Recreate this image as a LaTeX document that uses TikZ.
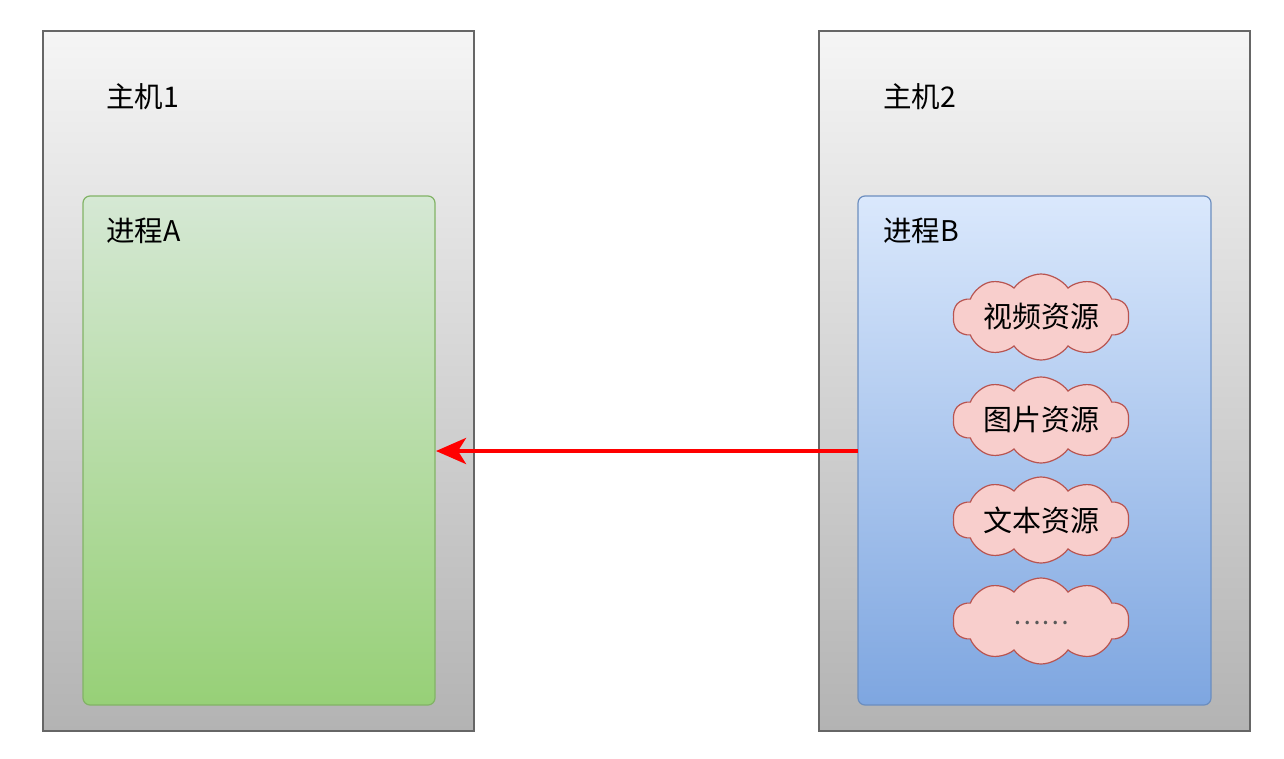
\documentclass[tikz,border=0pt]{standalone}
\usepackage{fontspec}
\setmainfont{Noto Sans CJK SC}
\usetikzlibrary{shapes.symbols,arrows.meta}
\definecolor{hostfill}{HTML}{F5F5F5}
\definecolor{hostgrad}{HTML}{B3B3B3}
\definecolor{hostline}{HTML}{666666}
\definecolor{gfill}{HTML}{D5E8D4}
\definecolor{ggrad}{HTML}{97D077}
\definecolor{gline}{HTML}{82B366}
\definecolor{bfill}{HTML}{DAE8FC}
\definecolor{bgrad}{HTML}{7EA6E0}
\definecolor{bline}{HTML}{6C8EBF}
\definecolor{cfill}{HTML}{F8CECC}
\definecolor{cline}{HTML}{B85450}
\begin{document}
\begin{tikzpicture}[x=1pt,y=-1pt,
  host/.style={draw=hostline,line width=1.2pt,top color=hostfill,bottom color=hostgrad},
  procA/.style={draw=gline,line width=1.2pt,rounded corners=7pt,top color=gfill,bottom color=ggrad},
  procB/.style={draw=bline,line width=1.2pt,rounded corners=7pt,top color=bfill,bottom color=bgrad},
  res/.style={cloud,cloud puffs=10,cloud puff arc=110,aspect=2.2,draw=cline,line width=1.2pt,fill=cfill,minimum width=176pt,minimum height=86pt,inner sep=-14pt,font=\fontsize{29}{33}\selectfont},
  lbl/.style={anchor=west,font=\fontsize{28.5}{33}\selectfont,inner sep=0pt}]
\useasboundingbox (0,0) rectangle (1284,758);
\fill[white] (0,0) rectangle (1284,758);
\path[host] (43,31) rectangle (474,731);
\path[host] (819,31) rectangle (1250,731);
\path[procA] (83,196) rectangle (435,705);
\path[procB] (858,196) rectangle (1211,705);
\node[lbl] (t1) at (106,97) {主机1};
\node[lbl] (t2) at (883,97) {主机2};
\node[lbl] (pa) at (106,231) {进程A};
\node[lbl] (pb) at (883,231) {进程B};
\node[res] (c1) at (1041,317) {视频资源};
\node[res] (c2) at (1041,420) {图片资源};
\node[res] (c3) at (1041,520) {文本资源};
\node[res,font=\fontsize{26}{30}\selectfont,text=black!65] (c4) at (1041,621) {\raisebox{-7pt}{……}};
\coordinate (as) at (858,451);
\coordinate (ae) at (436,451);
\draw[red,line width=4pt,-{Stealth[length=30pt,width=26pt,inset=8pt]}] (as) -- (ae);
\end{tikzpicture}
\end{document}
